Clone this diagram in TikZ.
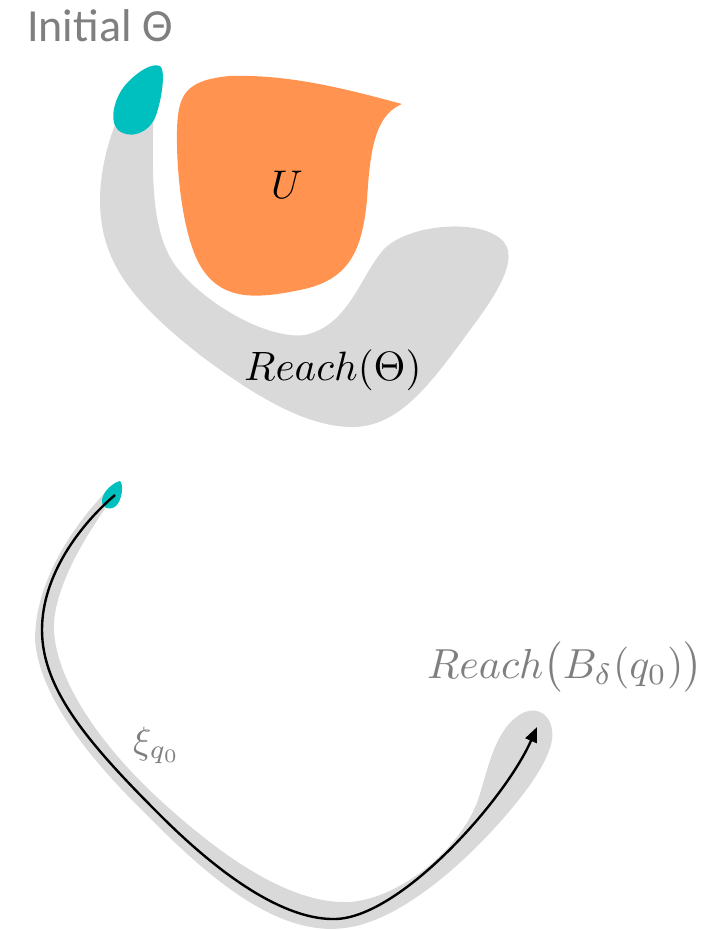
\documentclass[tikz,border=0pt]{standalone}
\usepackage{fontspec}
\newfontfamily\carlito{Carlito}
\usetikzlibrary{arrows.meta}
\definecolor{reachgray}{HTML}{D9D9D9}
\definecolor{tealfill}{HTML}{00BFBF}
\definecolor{orangefill}{HTML}{FF934F}
\definecolor{labelgray}{HTML}{7F7F7F}
\newcommand{\bigmath}[2]{\scalebox{#1}{$#2$}}
\tikzset{
  reachregion/.style={fill=reachgray, draw=none},
  initregion/.style={fill=tealfill, draw=none},
  unsaferegion/.style={fill=orangefill, draw=none},
  mathlabel/.style={inner sep=0pt, anchor=base west},
  trajectory/.style={line width=2.4pt, -{Triangle[length=15pt,width=12pt]}}
}
\begin{document}
\begin{tikzpicture}[x=1pt,y=-1pt]
\useasboundingbox (0,0) rectangle (725,930);

% ---------- top: Reach(Theta) ----------
\fill[reachregion] (156,68) .. controls (125,85) and (100,150) .. (100,200)
  .. controls (100,260) and (130,300) .. (200,355)
  .. controls (260,400) and (310,428) .. (355,427)
  .. controls (400,425) and (430,385) .. (470,330)
  .. controls (500,290) and (525,250) .. (495,235)
  .. controls (470,220) and (410,225) .. (385,248)
  .. controls (360,275) and (350,325) .. (305,335)
  .. controls (265,340) and (200,300) .. (175,265)
  .. controls (150,230) and (153,170) .. (153,130)
  .. controls (153,100) and (160,80) .. (156,68) -- cycle;

\fill[unsaferegion] (402,104) .. controls (375,115) and (370,150) .. (367,200)
  .. controls (362,250) and (350,280) .. (300,290)
  .. controls (260,298) and (225,302) .. (203,270)
  .. controls (185,245) and (176,180) .. (177,130)
  .. controls (178,95) and (185,80) .. (230,76)
  .. controls (290,74) and (350,90) .. (402,104) -- cycle;

\fill[initregion] (160,66) .. controls (166,70) and (162,100) .. (155,118)
  .. controls (148,133) and (130,140) .. (118,130)
  .. controls (108,120) and (115,95) .. (128,82)
  .. controls (140,70) and (152,63) .. (160,66) -- cycle;

\node[inner sep=0pt, anchor=base west, text=labelgray, font=\carlito\fontsize{46}{46}\selectfont] (initlabel) at (27,41) {Initial Θ};
\node[inner sep=0pt] (ulabel) at (287,185) {\bigmath{4}{U}};
\node[mathlabel] (reachlabel) at (244,380) {\bigmath{4.1}{Reach(\Theta)}};

% ---------- bottom: trajectory ----------
\fill[reachregion] (122,486) .. controls (95,520) and (52,585) .. (54,630)
  .. controls (56,680) and (100,745) .. (160,800)
  .. controls (220,855) and (290,905) .. (350,902)
  .. controls (400,898) and (460,850) .. (478,800)
  .. controls (488,770) and (495,725) .. (525,712)
  .. controls (545,705) and (558,725) .. (550,748)
  .. controls (545,762) and (540,770) .. (530,785)
  .. controls (490,840) and (410,920) .. (345,928)
  .. controls (290,935) and (230,900) .. (150,818)
  .. controls (95,765) and (40,700) .. (35,640)
  .. controls (35,580) and (75,525) .. (102,496)
  .. controls (110,485) and (118,482) .. (122,486) -- cycle;

\fill[initregion] (120,481) .. controls (124,485) and (122,500) .. (116,506)
  .. controls (110,511) and (101,508) .. (102,500)
  .. controls (103,492) and (112,483) .. (120,481) -- cycle;

\coordinate (xistart) at (115,495);
\coordinate (xiend) at (537,727);
\draw[trajectory] (xistart) .. controls (80,525) and (42,575) .. (42,630)
  .. controls (42,690) and (90,745) .. (160,815)
  .. controls (230,885) and (290,920) .. (335,919)
  .. controls (400,918) and (505,800) .. (xiend);

\node[mathlabel, text=labelgray] (xilabel) at (133,753) {\bigmath{3.8}{\xi_{q_0}}};
\node[mathlabel, text=labelgray] (reachblabel) at (427,678) {\bigmath{4.2}{Reach\bigl(B_\delta(q_0)\bigr)}};
\end{tikzpicture}
\end{document}
